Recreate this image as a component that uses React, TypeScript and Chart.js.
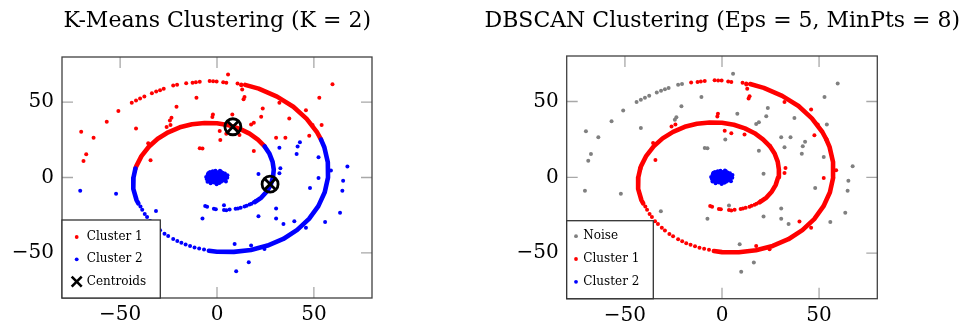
import React, { useEffect, useRef } from "react";
import { Chart, registerables } from "chart.js";

Chart.register(...registerables);

const FONT = "'DejaVu Serif', serif";
const RED = "#ff0000";
const BLUE = "#0000ff";
const GRAY = "#808080";

const axisMin = -80;
const axisMax = 80;
const tickValues = [-50, 0, 50];
const tickLabels = ["\u221250", "0", "50"];

const kmeansTitle = "K-Means Clustering (K = 2)";
const dbscanTitle = "DBSCAN Clustering (Eps = 5, MinPts = 8)";
const kmeansLegend = ["Cluster 1", "Cluster 2", "Centroids"];
const dbscanLegend = ["Noise", "Cluster 1", "Cluster 2"];

// spiral (x, y)
const spiralStart = [[-6.1,-18.9],[-5.1,-19.4],[-1.6,-20.8],[-0.6,-21.0],[3.6,-21.6],[4.8,-21.8],[6.5,-21.3],[9.6,-20.8],[10.8,-20.5],[12.2,-20.1],[14.2,-19.3],[15.3,-18.8],[16.8,-18.0],[17.8,-17.4],[19.0,-16.5],[20.0,-15.6]];
const spiralInnerLower = [[19.5,-16.3],[22.9,-13.3],[25.7,-9.3],[27.7,-4.9],[28.9,0],[29.3,5.2],[28.7,10.4],[27.1,15.7],[24.6,20.6]];
const spiralInnerUpper = [[24.6,20.6],[21.1,25.1],[16.8,29.1],[11.8,32.3],[6.1,34.7],[0,36.0],[-6.4,36.2],[-12.9,35.3],[-19.2,33.3],[-25.2,30.0],[-30.6,25.7],[-35.2,20.4],[-39.0,14.2],[-41.7,7.4],[-42.1,5.9]];
const spiralLeft = [[-42.1,5.9],[-43.1,0],[-43.2,-7.6],[-41.5,-15.1],[-40.6,-17.2]];
const spiralLowerGap = [[-39.5,-19.2],[-38.6,-21.4],[-37.3,-24.2],[-36.1,-26.2],[-34.5,-28.9],[-33.0,-30.8],[-31.0,-33.3],[-29.4,-35.0],[-27.1,-37.3],[-25.2,-38.8],[-22.6,-40.8],[-20.5,-42.2],[-18.4,-43.4],[-16.2,-44.5],[-13.9,-45.5],[-11.6,-46.4],[-9.2,-47.1],[-6.7,-47.8]];
const spiralOuterLower = [[-4.2,-48.6],[0,-49.3],[8.7,-49.4],[17.5,-48.1],[26.1,-45.2],[34.2,-40.8],[41.4,-34.8],[47.5,-27.5],[52.3,-19.0],[55.6,-9.8],[57.3,0],[57.2,10.1],[55.4,20.1],[53.7,25.1]];
const spiralOuterUpper = [[53.7,25.1],[51.7,29.9],[46.3,38.9],[39.4,47.0],[31.0,53.7],[21.5,59.0],[14.5,61.5]];
const spiralTopGap = [[12.5,61.8],[10.6,62.4],[4.8,62.9],[3.2,63.2],[-0.2,63.8],[-2.0,63.9],[-3.8,64.0],[-8.9,63.6],[-10.9,63.2],[-12.6,62.9],[-15.9,62.6]];
const spiralTail = [[-20.6,61.6],[-22.6,61.0],[-27.5,58.9],[-29.4,58.0],[-31.4,57.1],[-33.6,55.9],[-37.5,53.8],[-39.7,52.4],[-41.8,51.1],[-44.0,49.6]];

// central blob
const blob = [[-1.2,0.3],[0.5,1.1],[-2.3,-0.8],[1.4,-1.2],[-0.4,2.4],[2.6,0.6],[-3.1,1.2],[0.9,-2.5],[-1.8,-2.1],[3.2,-0.7],[-0.7,-0.6],[1.8,2.1],[-2.6,2.7],[-4.2,-0.3],[0.2,-1.6],[2.1,-2.9],[-1.0,3.6],[3.8,1.7],[-3.5,-2.6],[1.1,0.2],[-0.1,0.9],[-2.0,0.6],[0.6,3.1],[4.3,-1.6],[-4.8,1.9],[2.9,3.2],[-1.5,-3.4],[0.0,-3.8],[1.6,1.3],[-2.9,-1.4],[3.5,0.2],[-0.9,1.7],[2.3,-0.4],[-3.8,0.5],[0.8,-0.7],[-1.6,1.2],[1.2,-3.6],[-5.2,-1.1],[4.9,0.9],[-0.3,-2.7],[2.0,4.0],[-2.2,4.1],[5.3,-0.2],[-4.4,3.0],[0.4,2.0],[-4.9,-2.8],[-4.6,2.4],[-3.9,-1.7],[-3.6,3.6],[-3.3,-3.9],[-2.7,-3.1],[-2.5,1.9],[-2.1,-1.6],[-1.9,3.0],[-1.4,-0.2],[-1.1,-2.6],[-0.8,4.4],[-0.5,0.2],[-0.2,-4.4],[0.3,3.5],[0.7,-1.9],[1.0,1.6],[1.3,-2.9],[1.5,4.5],[1.9,-1.5],[2.4,1.2],[2.7,-2.2],[3.0,2.5],[3.4,-1.9],[3.9,-0.6],[4.1,2.7],[4.6,-2.6],[4.7,0.4],[5.4,1.5],[-5.6,0.3],[-5.0,-0.5],[-3.0,-0.2],[0.1,0.0],[-0.6,-1.2],[1.7,0.5],[-1.3,2.2],[2.8,-0.9],[-2.4,-2.4],[3.1,1.0],[-3.4,2.3]];

// scattered points
const upperNoise = [[5.7,68.3],[59.6,61.9],[-10.6,52.9],[52.8,52.9],[-20.9,46.9],[23.6,45.8],[-50.9,44.1],[37.3,39.2],[22.8,40.3],[7.9,41.9],[-56.9,37.0],[-23.5,39.7],[-24.3,37.9],[-41.8,32.6],[17.6,35.2],[19.0,36.4],[1.7,24.9],[30.5,26.4],[35.3,26.4],[54.0,34.8],[-70.1,30.4],[-63.7,26.4],[-8.9,19.4],[-7.5,19.2],[-67.5,15.4],[-68.9,11.0],[19.0,17.6]];
const upperNear = [[12.5,61.2],[13.0,58.4],[14.2,53.5],[13.7,52.0],[32.2,49.6],[45.9,44.7],[-2.1,41.9],[-2.4,40.1],[-26.0,33.5],[-24.0,34.8],[11.6,28.2],[1.4,30.8],[4.8,29.1],[47.6,27.8],[49.3,34.8],[-35.5,22.7],[-34.3,11.5]];
const lowerNoise = [[32.2,19.8],[42.8,23.4],[41.6,20.5],[41.1,15.6],[52.4,13.4],[67.3,7.3],[65.1,-2.2],[64.7,-8.8],[48.0,-7.0],[21.4,2.4],[-70.6,-8.8],[-52.1,-10.8],[-31.5,-22.3],[-7.5,-27.3],[21.4,-25.8],[30.5,-20.5],[30.5,-27.3],[34.3,-30.8],[55.8,-29.5],[63.5,-23.4],[9.1,-44.1],[16.4,-56.2],[9.9,-62.3],[3.6,-18.5]];
const lowerNear = [[58.8,4.6],[52.4,-0.4],[32.7,6.2],[32.2,2.9],[39.9,-29.1],[45.9,-33.3],[17.6,-45.2],[24.5,-47.4]];

const centroids = [[8.2,33.7],[27.4,-4.4]];

const toPts = (a: number[][]) => a.map(([x, y]) => ({ x, y }));

function dots(label: string, arr: number[][], color: string) {
  return {
    label,
    data: toPts(arr),
    backgroundColor: color,
    borderColor: color,
    pointRadius: 2,
    pointBorderWidth: 0,
    pointHoverRadius: 0,
    showLine: false,
  };
}

function curve(label: string, arr: number[][], color: string) {
  return {
    label,
    data: toPts(arr),
    borderColor: color,
    backgroundColor: color,
    showLine: true,
    borderWidth: 4.6,
    pointRadius: 0,
    pointHoverRadius: 0,
    tension: 0,
    borderCapStyle: "round",
    borderJoinStyle: "round",
    fill: false,
  };
}

const frameTicks = {
  id: "frameTicks",
  afterDatasetsDraw(chart: any) {
    const { ctx, chartArea: ca, scales } = chart;
    ctx.save();
    ctx.strokeStyle = "#a8a8a8";
    ctx.lineWidth = 1.3;
    ctx.beginPath();
    for (const v of tickValues) {
      const px = scales.x.getPixelForValue(v);
      ctx.moveTo(px, ca.bottom);
      ctx.lineTo(px, ca.bottom - 11);
      ctx.moveTo(px, ca.top);
      ctx.lineTo(px, ca.top + 11);
      const py = scales.y.getPixelForValue(v);
      ctx.moveTo(ca.left, py);
      ctx.lineTo(ca.left + 11, py);
      ctx.moveTo(ca.right, py);
      ctx.lineTo(ca.right - 11, py);
    }
    ctx.stroke();
    ctx.strokeStyle = "#404040";
    ctx.lineWidth = 1.3;
    ctx.strokeRect(ca.left, ca.top, ca.right - ca.left, ca.bottom - ca.top);
    ctx.restore();
  },
};

type LegendItem = { label: string; kind: "dot" | "cross"; color: string };
type LegendBox = { w: number; h: number; markerX: number; textX: number; firstRow: number; rowGap: number };

function makeLegend(items: LegendItem[], box: LegendBox) {
  return {
    id: "boxLegend",
    afterDraw(chart: any) {
      const { ctx, chartArea: ca } = chart;
      const left = ca.left;
      const top = ca.bottom - box.h;
      ctx.save();
      ctx.fillStyle = "#ffffff";
      ctx.fillRect(left, top, box.w, box.h);
      ctx.strokeStyle = "#333333";
      ctx.lineWidth = 1.3;
      ctx.strokeRect(left, top, box.w, box.h);
      items.forEach((it, i) => {
        const y = top + box.firstRow + i * box.rowGap;
        const mx = left + box.markerX;
        if (it.kind === "cross") {
          ctx.strokeStyle = it.color;
          ctx.lineWidth = 2.6;
          ctx.beginPath();
          ctx.moveTo(mx - 5, y - 5);
          ctx.lineTo(mx + 5, y + 5);
          ctx.moveTo(mx + 5, y - 5);
          ctx.lineTo(mx - 5, y + 5);
          ctx.stroke();
        } else {
          ctx.fillStyle = it.color;
          ctx.beginPath();
          ctx.arc(mx, y, 1.9, 0, Math.PI * 2);
          ctx.fill();
        }
        ctx.fillStyle = "#000";
        ctx.font = `12px ${FONT}`;
        ctx.textBaseline = "middle";
        ctx.textAlign = "left";
        ctx.fillText(it.label, left + box.textX, y);
      });
      ctx.restore();
    },
  };
}

function axis(kind: "x" | "y", fitSize: number, padding: number) {
  return {
    type: "linear",
    min: axisMin,
    max: axisMax,
    afterBuildTicks: (s: any) => {
      s.ticks = tickValues.map((v) => ({ value: v }));
    },
    afterFit: (s: any) => {
      if (kind === "x") s.height = fitSize;
      else s.width = fitSize;
    },
    grid: { display: false, drawTicks: false },
    border: { display: false },
    ticks: {
      autoSkip: false,
      maxRotation: 0,
      padding,
      color: "#000",
      font: { family: FONT, size: 20 },
      callback: (v: any) => {
        const i = tickValues.indexOf(Number(v));
        return i >= 0 ? tickLabels[i] : "";
      },
    },
  };
}

function spacer(width: number) {
  return {
    type: "linear",
    position: "right",
    display: true,
    grid: { display: false, drawTicks: false },
    border: { display: false },
    ticks: { display: false },
    afterFit: (s: any) => {
      s.width = width;
    },
  };
}

function baseOptions(
  title: string,
  padLeft: number,
  padRight: number,
  yWidth: number,
  rightWidth: number,
  xHeight: number,
  titleBottom: number
) {
  return {
    responsive: false,
    animation: false,
    events: [],
    layout: { padding: { left: padLeft, right: padRight, top: 0, bottom: 0 } },
    plugins: {
      legend: { display: false },
      tooltip: { enabled: false },
      title: {
        display: true,
        text: title,
        fullSize: true,
        color: "#000",
        font: { family: FONT, size: 22, weight: "normal", lineHeight: 1.2 },
        padding: { top: 8, bottom: titleBottom },
      },
    },
    scales: {
      x: axis("x", xHeight, 5),
      y: axis("y", yWidth, 8),
      yRightSpace: spacer(rightWidth),
    },
  };
}

export default function App() {
  const ref1 = useRef<HTMLCanvasElement>(null);
  const ref2 = useRef<HTMLCanvasElement>(null);

  useEffect(() => {
    const kmeans = new Chart(ref1.current as HTMLCanvasElement, {
      type: "scatter",
      data: {
        datasets: [
          {
            label: kmeansLegend[2] + " ring",
            data: toPts(centroids),
            pointStyle: "circle",
            pointRadius: 8,
            pointBorderWidth: 2.8,
            borderColor: "#000",
            backgroundColor: "rgba(0,0,0,0)",
            showLine: false,
          },
          {
            label: kmeansLegend[2],
            data: toPts(centroids),
            pointStyle: "crossRot",
            pointRadius: 8,
            pointBorderWidth: 2.8,
            borderColor: "#000",
            backgroundColor: "#000",
            showLine: false,
          },
          dots(kmeansLegend[1], blob, BLUE),
          dots(kmeansLegend[1], lowerNoise, BLUE),
          dots(kmeansLegend[1], lowerNear, BLUE),
          dots(kmeansLegend[1], spiralStart, BLUE),
          curve(kmeansLegend[1], spiralInnerLower, BLUE),
          curve(kmeansLegend[1], spiralLeft, BLUE),
          dots(kmeansLegend[1], spiralLowerGap, BLUE),
          curve(kmeansLegend[1], spiralOuterLower, BLUE),
          dots(kmeansLegend[0], upperNoise, RED),
          dots(kmeansLegend[0], upperNear, RED),
          curve(kmeansLegend[0], spiralInnerUpper, RED),
          curve(kmeansLegend[0], spiralOuterUpper, RED),
          dots(kmeansLegend[0], spiralTopGap, RED),
          dots(kmeansLegend[0], spiralTail, RED),
        ] as any,
      },
      options: baseOptions(kmeansTitle, 0, 45.4, 62, 62.6, 31, 22.6) as any,
      plugins: [
        frameTicks,
        makeLegend(
          [
            { label: kmeansLegend[0], kind: "dot", color: RED },
            { label: kmeansLegend[1], kind: "dot", color: BLUE },
            { label: kmeansLegend[2], kind: "cross", color: "#000" },
          ],
          { w: 98.3, h: 78, markerX: 14.7, textX: 24.7, firstRow: 17, rowGap: 22.3 }
        ),
      ],
    });

    const dbscan = new Chart(ref2.current as HTMLCanvasElement, {
      type: "scatter",
      data: {
        datasets: [
          dots(dbscanLegend[2], blob, BLUE),
          dots(dbscanLegend[1], upperNear, RED),
          dots(dbscanLegend[1], lowerNear, RED),
          dots(dbscanLegend[1], spiralStart, RED),
          curve(dbscanLegend[1], spiralInnerLower, RED),
          curve(dbscanLegend[1], spiralInnerUpper, RED),
          curve(dbscanLegend[1], spiralLeft, RED),
          dots(dbscanLegend[1], spiralLowerGap, RED),
          curve(dbscanLegend[1], spiralOuterLower, RED),
          curve(dbscanLegend[1], spiralOuterUpper, RED),
          dots(dbscanLegend[1], spiralTopGap, RED),
          dots(dbscanLegend[0], spiralTail, GRAY),
          dots(dbscanLegend[0], upperNoise, GRAY),
          dots(dbscanLegend[0], lowerNoise, GRAY),
        ] as any,
      },
      options: baseOptions(dbscanTitle, 4.6, 0, 82.1, 82.7, 30.3, 21.6) as any,
      plugins: [
        frameTicks,
        makeLegend(
          [
            { label: dbscanLegend[0], kind: "dot", color: GRAY },
            { label: dbscanLegend[1], kind: "dot", color: RED },
            { label: dbscanLegend[2], kind: "dot", color: BLUE },
          ],
          { w: 86.6, h: 78, markerX: 9.3, textX: 16.6, firstRow: 15.5, rowGap: 22.8 }
        ),
      ],
    });

    return () => {
      kmeans.destroy();
      dbscan.destroy();
    };
  }, []);

  return (
    <div style={{ position: "absolute", left: 0, top: 0, width: 960, height: 329, background: "#fff" }}>
      <div style={{ position: "absolute", left: 0, top: 0, width: 480, height: 329 }}>
        <canvas ref={ref1} width={480} height={329} style={{ display: "block", width: 480, height: 329 }} />
      </div>
      <div style={{ position: "absolute", left: 480, top: 0, width: 480, height: 329 }}>
        <canvas ref={ref2} width={480} height={329} style={{ display: "block", width: 480, height: 329 }} />
      </div>
    </div>
  );
}
